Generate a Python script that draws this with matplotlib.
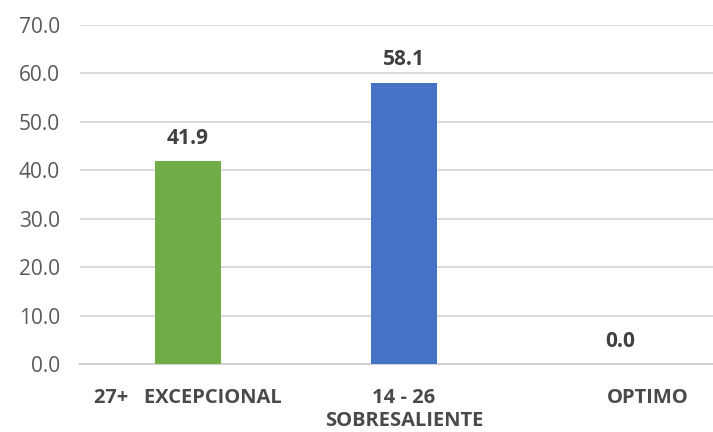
import matplotlib.pyplot as plt
from matplotlib.transforms import ScaledTranslation

categories = ["27+   EXCEPCIONAL", "14 - 26\nSOBRESALIENTE", "OPTIMO"]
values = [41.9, 58.1, 0.0]
bar_colors = ["#70AD47", "#4472C4", "#A5A5A5"]
yticks = [0, 10, 20, 30, 40, 50, 60, 70]

plt.rcParams["font.family"] = ["Open Sans", "DejaVu Sans"]

fig = plt.figure(figsize=(7.13, 4.32), dpi=100)
W, H = 713, 432
ax = fig.add_axes([80 / W, 1 - 364 / H, 648 / W, (364 - 25) / H])

x = range(len(values))
ax.bar(x, values, width=0.31, color=bar_colors, zorder=3)

for xi, v in zip(x, values):
    ax.annotate(f"{v:.1f}", (xi, v), xytext=(0, 12.5), textcoords="offset points",
                ha="center", va="baseline", fontsize=15, fontweight="bold", color="#404040")

ax.set_xlim(-0.5, 2.5)
ax.set_ylim(0, 70)
ax.set_yticks(yticks)
ax.set_yticklabels([f"{t:.1f}" for t in yticks], fontsize=15, color="#595959")
ax.set_xticks(list(x))
ax.set_xticklabels(categories, fontsize=14.5, color="#4a4a4a", fontweight="bold",
                   linespacing=1.22)
ax.tick_params(axis="both", length=0)
ax.tick_params(axis="x", pad=17)
ax.tick_params(axis="y", pad=14.5)

# excel pushed the last category label a bit to the right
lbl = ax.get_xticklabels()[2]
lbl.set_transform(lbl.get_transform() + ScaledTranslation(28 / 100, 0, fig.dpi_scale_trans))

ax.grid(axis="y", color="#D9D9D9", linewidth=1.3, zorder=0)
for s in ["top", "right", "left"]:
    ax.spines[s].set_visible(False)
ax.spines["bottom"].set_color("#D0D0D0")
ax.spines["bottom"].set_linewidth(1.5)

fig.savefig("out.png", dpi=100)
